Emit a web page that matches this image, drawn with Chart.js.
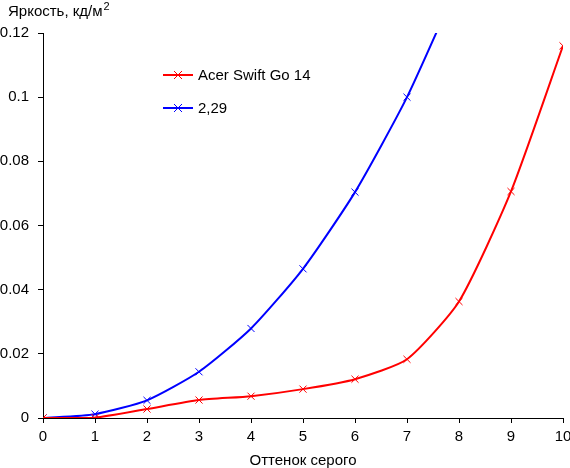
<!DOCTYPE html>
<html>
<head>
<meta charset="utf-8">
<script src="https://cdn.jsdelivr.net/npm/chart.js@4/dist/chart.umd.min.js"></script>
<style>
  html, body { margin: 0; padding: 0; background: #ffffff; }
  #contenedor { width: 570px; height: 468px; }
</style>
</head>
<body>
<div id="contenedor"><canvas id="miGrafica" width="570" height="468"></canvas></div>
<script>
// 1. Datos
const gradaciones = [0, 1, 2, 3, 4, 5, 6, 7, 8, 9, 10];
const brilloAcer = [0, 0.0001, 0.0028, 0.0056, 0.0068, 0.009, 0.0121, 0.0183, 0.0363, 0.0706, 0.116];
const brilloGamma = [0, 0.0012, 0.0055, 0.0144, 0.0279, 0.0465, 0.0704, 0.1, 0.136, null, null];
const nombres = ['Acer Swift Go 14', '2,29'];
const colores = ['#ff0000', '#0000ff'];
const ticksY = [0, 0.02, 0.04, 0.06, 0.08, 0.1, 0.12];

const fuente = "'Liberation Sans', Arial, sans-serif";
const tamano = 15;

// 2. Convertimos los arrays en puntos {x, y}
function aPuntos(valores) {
    return gradaciones.map((g, i) => ({ x: g, y: valores[i] }));
}

// 3. Plugin para el titulo de arriba y la leyenda dentro del area
const extras = {
    id: 'extras',
    afterDraw(chart) {
        const ctx = chart.ctx;
        ctx.save();
        ctx.fillStyle = '#000000';
        ctx.font = tamano + 'px ' + fuente;
        ctx.textBaseline = 'alphabetic';
        ctx.textAlign = 'left';
        ctx.fillText('Яркость, кд/м', 8, 16);
        const ancho = ctx.measureText('Яркость, кд/м').width;
        ctx.font = '11px ' + fuente;
        ctx.fillText('2', 8 + ancho + 1, 10);

        // leyenda
        chart.data.datasets.forEach((ds, i) => {
            const y = 75 + i * 33;
            ctx.strokeStyle = ds.borderColor;
            ctx.lineWidth = 2;
            ctx.beginPath();
            ctx.moveTo(163, y);
            ctx.lineTo(193, y);
            ctx.stroke();
            ctx.lineWidth = 1;
            ctx.beginPath();
            ctx.moveTo(174, y - 4);
            ctx.lineTo(182, y + 4);
            ctx.moveTo(174, y + 4);
            ctx.lineTo(182, y - 4);
            ctx.stroke();
            ctx.fillStyle = '#000000';
            ctx.font = tamano + 'px ' + fuente;
            ctx.fillText(ds.label, 198, y + 5);
        });
        ctx.restore();
    }
};

const lienzo = document.getElementById('miGrafica').getContext('2d');

new Chart(lienzo, {
    type: 'line',
    data: {
        datasets: [brilloAcer, brilloGamma].map((valores, i) => ({
            label: nombres[i],
            data: aPuntos(valores),
            borderColor: colores[i],
            backgroundColor: colores[i],
            borderWidth: 2,
            tension: 0.2,
            pointStyle: 'crossRot',
            pointRadius: 5,
            pointBorderWidth: 1,
            fill: false
        }))
    },
    options: {
        responsive: false,
        animation: false,
        layout: { padding: { top: 33, right: 7, left: 0, bottom: 0 } },
        plugins: {
            legend: { display: false },
            tooltip: { enabled: false }
        },
        scales: {
            x: {
                type: 'linear',
                min: 0,
                max: 10,
                ticks: { stepSize: 1, color: '#000000', padding: 5, maxRotation: 0, font: { family: fuente, size: tamano } },
                grid: { drawOnChartArea: false, drawTicks: true, tickLength: 5, color: '#000000' },
                border: { color: '#000000', width: 1 },
                title: { display: true, text: 'Оттенок серого', color: '#000000', padding: { top: 0, bottom: 0 }, font: { family: fuente, size: tamano, lineHeight: 1 } },
                afterFit(escala) {
                    escala.height = 50;
                    escala.paddingRight = 0;
                    escala.paddingLeft = 0;
                }
            },
            y: {
                min: 0,
                max: 0.12,
                afterBuildTicks(escala) {
                    escala.ticks = ticksY.map(v => ({ value: v }));
                },
                ticks: {
                    color: '#000000',
                    padding: 9,
                    font: { family: fuente, size: tamano },
                    callback: v => String(+v.toFixed(2))
                },
                grid: { drawOnChartArea: false, drawTicks: true, tickLength: 5, color: '#000000' },
                border: { color: '#000000', width: 1 },
                afterFit(escala) {
                    escala.width = 43;
                    escala.paddingTop = 0;
                    escala.paddingBottom = 0;
                }
            }
        }
    },
    plugins: [extras]
});
</script>
</body>
</html>
